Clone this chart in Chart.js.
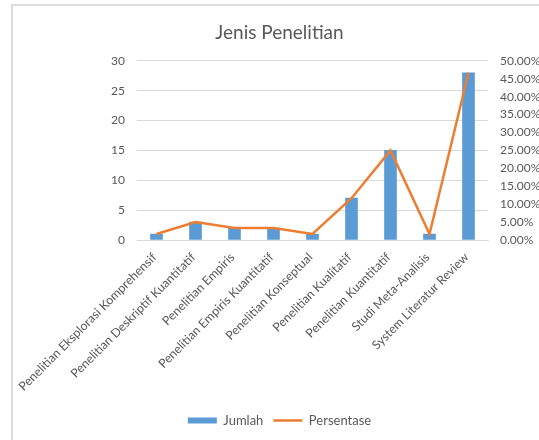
<!DOCTYPE html>
<html>
<head>
<meta charset="utf-8">
<script src="https://cdn.jsdelivr.net/npm/chart.js@4"></script>
<style>
  html, body { margin: 0; padding: 0; background: #fff; overflow: hidden; }
  #frame { position: absolute; left: 11px; top: 4px; width: 600px; height: 500px;
           border-left: 2px solid #dcdcdc; border-top: 2px solid #dcdcdc; }
  #wrap { position: absolute; left: 0; top: 0; width: 539px; height: 440px; }
</style>
</head>
<body>
<div id="frame"></div>
<div id="wrap"><canvas id="myChart" width="539" height="440"></canvas></div>
<script>
// data
let kategori = [
  "Penelitian Eksplorasi Komprehensif",
  "Penelitian Deskriptif Kuantitatif",
  "Penelitian Empiris",
  "Penelitian Empiris Kuantitatif",
  "Penelitian Konseptual",
  "Penelitian Kualitatif",
  "Penelitian Kuantitatif",
  "Studi Meta-Analisis",
  "System Literatur Review"
]
let jumlah = [1, 3, 2, 2, 1, 7, 15, 1, 28]
let persentase = [1.67, 5.00, 3.33, 3.33, 1.67, 11.67, 25.00, 1.67, 46.67]

const abu = "#595959"
const fontName = "Lato"

const ctx = document.getElementById('myChart')

new Chart(ctx, {
  type: 'bar',
  data: {
    labels: kategori,
    datasets: [{
      label: 'Jumlah',
      data: jumlah,
      backgroundColor: "#5B9BD5",
      barThickness: 12,
      yAxisID: 'y',
      pointStyle: 'rect',
      order: 2
    }, {
      type: 'line',
      label: 'Persentase',
      data: persentase,
      borderColor: "#ED7D31",
      backgroundColor: "#ED7D31",
      borderWidth: 2.5,
      pointRadius: 0,
      pointStyle: 'line',
      tension: 0,
      yAxisID: 'y1',
      order: 1
    }]
  },
  options: {
    responsive: false,
    animation: false,
    layout: { padding: { top: 0, bottom: 3, left: 20, right: 0 } },
    plugins: {
      title: {
        display: true,
        text: 'Jenis Penelitian',
        color: abu,
        font: { family: fontName, size: 19, weight: 'normal' },
        padding: { top: 21, bottom: 17 }
      },
      legend: {
        position: 'bottom',
        labels: {
          usePointStyle: true,
          pointStyleWidth: 29,
          boxWidth: 29,
          boxHeight: 6,
          color: abu,
          padding: 10,
          font: { family: fontName, size: 13 },
          sort: function (a, b) { return a.datasetIndex - b.datasetIndex }
        }
      },
      tooltip: { enabled: false }
    },
    scales: {
      x: {
        offset: true,
        grid: { display: false, drawTicks: false },
        border: { display: true, color: "#d9d9d9" },
        ticks: {
          color: abu,
          maxRotation: 45,
          minRotation: 45,
          autoSkip: false,
          padding: 10,
          labelOffset: -2,
          font: { family: fontName, size: 12.3 }
        },
        afterFit: function (scale) { scale.height = 164 }
      },
      y: {
        position: 'left',
        min: 0,
        max: 30,
        ticks: { stepSize: 5, color: abu, padding: 12, font: { family: fontName, size: 12 } },
        grid: { color: "#d9d9d9", drawTicks: false },
        border: { display: false },
        afterFit: function (scale) { scale.width = 117 }
      },
      y1: {
        position: 'right',
        min: 0,
        max: 50,
        ticks: {
          stepSize: 5,
          color: abu,
          padding: 12,
          font: { family: fontName, size: 12 },
          callback: function (v) { return v.toFixed(2) + '%' }
        },
        grid: { display: false, drawTicks: false },
        border: { display: false },
        afterFit: function (scale) { scale.width = 51 }
      }
    }
  }
})
</script>
</body>
</html>
